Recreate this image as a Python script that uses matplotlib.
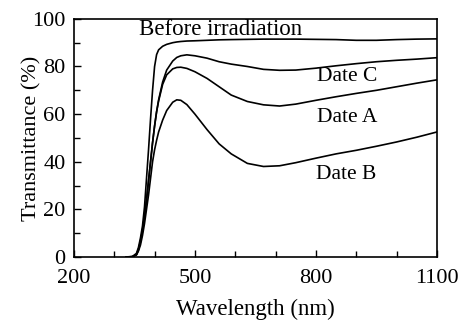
import matplotlib
matplotlib.use("Agg")
import matplotlib.pyplot as plt
from matplotlib.ticker import MultipleLocator

wavelength = [330, 345, 355, 360, 365, 370, 375, 380, 385, 390, 395, 400, 405, 410, 420, 430,
              445, 455, 465, 480, 500, 530, 560, 590, 630, 670, 710, 750, 800, 850, 900, 950,
              1000, 1050, 1100]
before = [0, 0.2, 1.5, 4, 8, 13, 21, 33, 45, 58, 70, 80, 85, 87, 88.5, 89.3,
          90, 90.3, 90.5, 90.7, 90.8, 91, 91.2, 91.3, 91.4, 91.5, 91.5, 91.5, 91.4, 91.3, 91.0, 91.0,
          91.3, 91.5, 91.6]
date_c = [0, 0.1, 1, 3, 6.5, 11, 17, 24, 32, 40, 48, 55, 61, 66, 73.5, 78.5,
          82.3, 83.8, 84.5, 84.9, 84.5, 83.5, 82, 81, 80, 78.8, 78.4, 78.5, 79.3, 80.3, 81.2, 82,
          82.6, 83.1, 83.7]
date_a = [0, 0.1, 1, 3, 6.5, 11, 17, 24, 32, 40, 48, 55, 61, 65.5, 72.5, 76.5,
          79, 79.6, 79.7, 79.2, 77.8, 75, 71.5, 68, 65.3, 63.9, 63.4, 64.2, 65.8, 67.3, 68.7, 70,
          71.5, 73, 74.4]
date_b = [0, 0.1, 0.8, 2.5, 5, 9, 14, 20, 26, 33, 40, 45, 49, 52.5, 57.5, 61.5,
          65, 66, 65.8, 64, 60, 53.5, 47.5, 43.3, 39.3, 38, 38.3, 39.6, 41.5, 43.3, 44.8, 46.5,
          48.3, 50.3, 52.5]

labels = ["Before irradiation", "Date C", "Date A", "Date B"]
label_x = [361, 802, 803, 800]
label_y = [95.4, 75.6, 58.4, 34.5]
label_size = [16.5, 15.5, 15.5, 15.5]
xticks = [200, 500, 800, 1100]
yticks = [0, 20, 40, 60, 80, 100]

plt.rcParams['font.family'] = ['Liberation Serif', 'DejaVu Serif']

fig = plt.figure(figsize=(4.59, 3.20), dpi=100)
ax = fig.add_axes([0.161, 0.197, 0.791, 0.744])

for s in [before, date_c, date_a, date_b]:
    ax.plot(wavelength, s, color='black', lw=1.2)

for t, x, y, fs in zip(labels, label_x, label_y, label_size):
    ax.text(x, y, t, fontsize=fs, va='center', ha='left')

ax.set_xlim(200, 1100)
ax.set_ylim(0, 100)
ax.set_xticks(xticks)
ax.set_yticks(yticks)
ax.xaxis.set_minor_locator(MultipleLocator(100))
ax.yaxis.set_minor_locator(MultipleLocator(10))
ax.tick_params(which='both', direction='in', labelsize=16, top=False, right=False)
ax.tick_params(which='major', length=5, width=1)
ax.tick_params(which='minor', length=4, width=1)
ax.tick_params(axis='x', pad=9)
ax.tick_params(axis='y', pad=6)
for sp in ax.spines.values():
    sp.set_linewidth(1.2)
ax.set_xlabel("Wavelength (nm)", fontsize=16.5)
ax.set_ylabel("Transmittance (%)", fontsize=16)
ax.yaxis.set_label_coords(-0.09, 0.5)
ax.xaxis.set_label_coords(0.5, -0.175)

fig.savefig("out.png", dpi=100)
